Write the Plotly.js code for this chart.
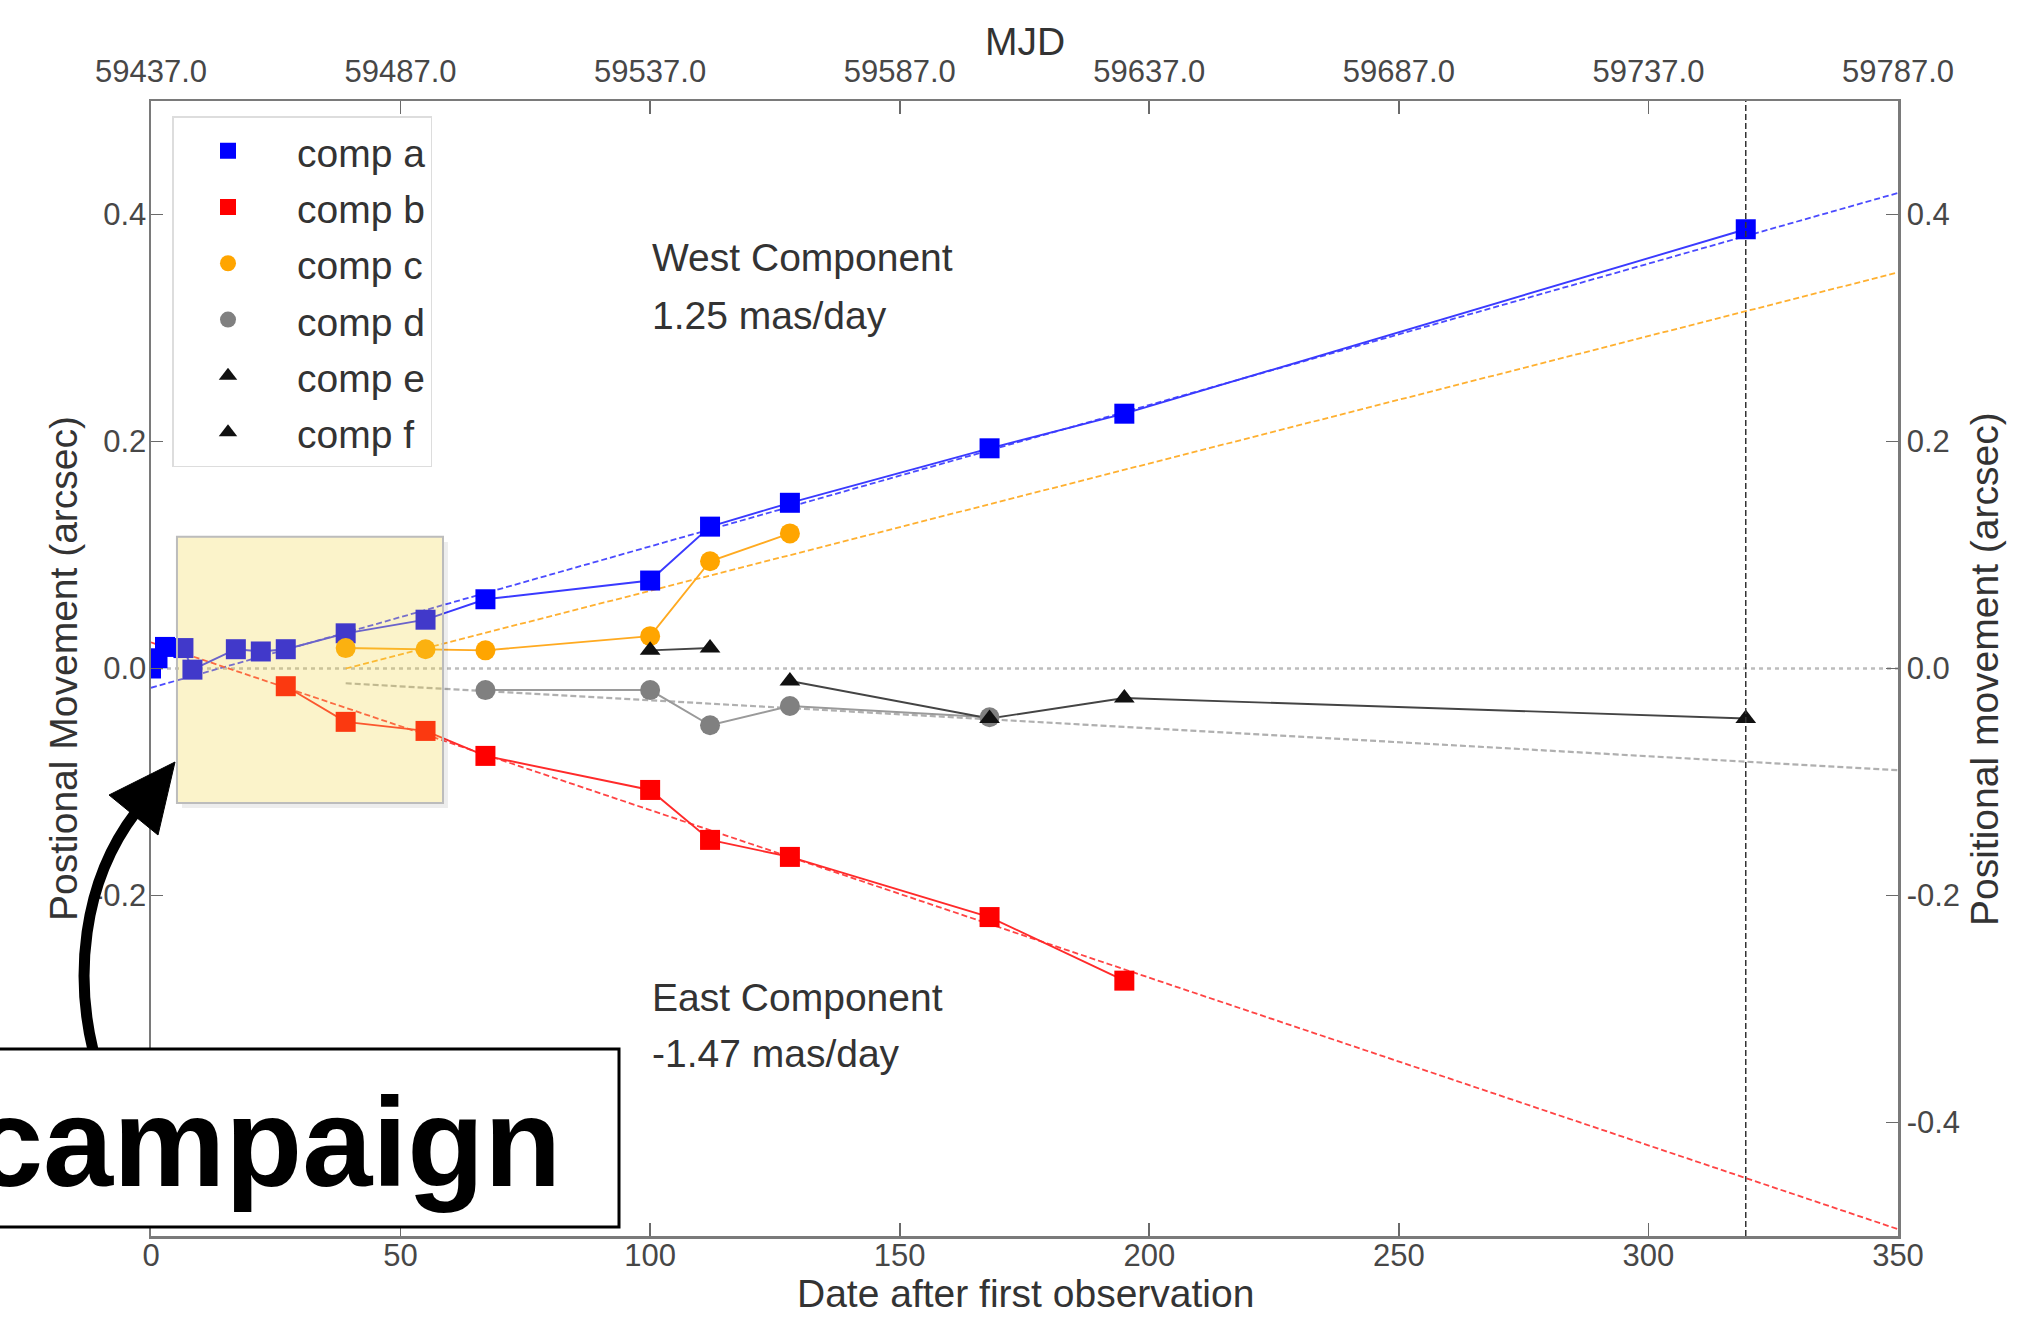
<!DOCTYPE html>
<html>
<head>
<meta charset="utf-8">
<script src="https://cdn.plot.ly/plotly-3.0.1.min.js"></script>
<style>
  html, body { margin: 0; padding: 0; background: #ffffff; }
  #chart { width: 2025px; height: 1326px; }
</style>
</head>
<body>
<div id="chart"></div>
<script>
// ---------------- data ----------------
const days_a = [0, 1.3, 2.8, 6.5, 8.3, 17, 22, 27, 39, 55, 67, 100, 112, 128, 168, 195, 319.5];
const comp_a = [0.0, 0.009, 0.019, 0.018, -0.001, 0.017, 0.015, 0.017, 0.031, 0.043, 0.061, 0.0775, 0.125, 0.146, 0.194, 0.2245, 0.387];

const days_b = [27, 39, 55, 67, 100, 112, 128, 168, 195];
const comp_b = [-0.0156, -0.047, -0.055, -0.077, -0.107, -0.151, -0.166, -0.219, -0.275];

const days_c = [39, 55, 67, 100, 112, 128];
const comp_c = [0.018, 0.017, 0.016, 0.0285, 0.0945, 0.119];

const days_d = [67, 100, 112, 128, 168];
const comp_d = [-0.019, -0.019, -0.050, -0.033, -0.043];

const days_e = [100, 112];
const comp_e = [0.016, 0.018];

const days_f = [128, 168, 195, 319.5];
const comp_f = [-0.011, -0.044, -0.026, -0.044];

// linear-fit lines (end points)
const fitA_x = [0, 350],  fitA_y = [-0.017, 0.419];
const fitB_x = [0, 350],  fitB_y = [0.023, -0.494];
const fitC_x = [39, 350], fitC_y = [0.0, 0.349];
const fitD_x = [39, 350], fitD_y = [-0.013, -0.0896];

const vline_x = 319.5;                  // last epoch marker
const campaign_x = [5.2, 58.5];         // highlighted campaign window (days)
const campaign_y = [-0.1185, 0.116];    // (arcsec)

const xTicks = [0, 50, 100, 150, 200, 250, 300, 350];
const mjdTicks = [59437, 59487, 59537, 59587, 59637, 59687, 59737, 59787];
const mjdLabels = ['59437.0', '59487.0', '59537.0', '59587.0', '59637.0', '59687.0', '59737.0', '59787.0'];
const yTicks = [-0.4, -0.2, 0.0, 0.2, 0.4];
const yLabels = ['-0.4', '-0.2', '0.0', '0.2', '0.4'];

const names = ['comp a', 'comp b', 'comp c', 'comp d', 'comp e', 'comp f'];

// ---------------- styling ----------------
const FONT = 'Liberation Sans, Arial, Helvetica, sans-serif';
const W = 2025, H = 1326;
const M = { l: 151, r: 127, t: 101, b: 90 };
const PW = W - M.l - M.r, PH = H - M.t - M.b;
const px2fx = px => (px - M.l) / PW;
const px2fy = py => (H - M.b - py) / PH;

const series = [
  { x: days_a, y: comp_a, name: names[0], mc: '#0000ff', lc: '#3a3aff', sym: 'square', ms: 20 },
  { x: days_b, y: comp_b, name: names[1], mc: '#ff0000', lc: '#ff2a2a', sym: 'square', ms: 20 },
  { x: days_c, y: comp_c, name: names[2], mc: '#ffa500', lc: '#ffaa20', sym: 'circle', ms: 20 },
  { x: days_d, y: comp_d, name: names[3], mc: '#808080', lc: '#9a9a9a', sym: 'circle', ms: 20 },
  { x: days_e, y: comp_e, name: names[4], mc: '#111111', lc: '#444444', sym: 'triangle-up', ms: 18 },
  { x: days_f, y: comp_f, name: names[5], mc: '#111111', lc: '#444444', sym: 'triangle-up', ms: 18 }
];

const traces = [];
// dashed fit lines
const fits = [
  [fitA_x, fitA_y, '#4b4bff', 1.8],
  [fitB_x, fitB_y, '#ff4444', 1.8],
  [fitC_x, fitC_y, '#ffb030', 1.8],
  [fitD_x, fitD_y, '#b0b0b0', 2.2]
];
fits.forEach(f => traces.push({
  x: f[0], y: f[1], mode: 'lines', type: 'scatter', showlegend: false, hoverinfo: 'skip',
  line: { color: f[2], width: f[3], dash: '6px,3px' }
}));
// connecting lines
series.forEach(s => traces.push({
  x: s.x, y: s.y, mode: 'lines', type: 'scatter', showlegend: false,
  line: { color: s.lc, width: 1.9 }
}));
// markers (also the legend entries)
series.forEach(s => traces.push({
  x: s.x, y: s.y, mode: 'markers', type: 'scatter',
  name: '<span style="font-size:52px">&nbsp;</span><span style="font-size:39px">' + s.name + '</span>',
  marker: { color: s.mc, symbol: s.sym, size: s.ms, line: { width: 0 } }
}));
// invisible helpers so that the twin axes are drawn
traces.push({ x: [mjdTicks[0]], y: [0], xaxis: 'x2', yaxis: 'y', mode: 'markers',
  marker: { opacity: 0 }, showlegend: false, hoverinfo: 'skip' });
traces.push({ x: [0], y: [0], xaxis: 'x', yaxis: 'y2', mode: 'markers',
  marker: { opacity: 0 }, showlegend: false, hoverinfo: 'skip' });

const axisCommon = {
  showgrid: false, zeroline: false, showline: true, linecolor: '#7a7a7a', linewidth: 2.5,
  ticks: 'inside', tickcolor: '#6a6a6a', tickwidth: 1.6,
  tickfont: { family: FONT, size: 31, color: '#474747' }
};

// shapes
const dx = 1.0, dy = 0.0045;
const shapes = [
  // horizontal zero reference
  { type: 'line', xref: 'x', yref: 'y', x0: xTicks[0], x1: xTicks[xTicks.length - 1], y0: 0, y1: 0,
    line: { color: '#bdbdbd', width: 2.6, dash: '4px,4px' }, layer: 'below' },
  // vertical epoch line
  { type: 'line', xref: 'x', yref: 'paper', x0: vline_x, x1: vline_x, y0: 0, y1: 1,
    line: { color: '#333333', width: 1.5, dash: '6px,3px' }, layer: 'above' },
  // shadow of campaign window
  { type: 'path', xref: 'x', yref: 'y', layer: 'above', line: { width: 0 }, fillcolor: 'rgba(0,0,0,0.07)',
    path: `M ${campaign_x[1]},${campaign_y[1] - dy} L ${campaign_x[1] + dx},${campaign_y[1] - dy} ` +
          `L ${campaign_x[1] + dx},${campaign_y[0] - dy} L ${campaign_x[0] + dx},${campaign_y[0] - dy} ` +
          `L ${campaign_x[0] + dx},${campaign_y[0]} L ${campaign_x[1]},${campaign_y[0]} Z` },
  // campaign window
  { type: 'rect', xref: 'x', yref: 'y', layer: 'above',
    x0: campaign_x[0], x1: campaign_x[1], y0: campaign_y[0], y1: campaign_y[1],
    fillcolor: 'rgba(240,210,60,0.27)', line: { color: '#bcbcbc', width: 2 } },
  // curved arrow (paper coords from page pixels)
  { type: 'path', xref: 'paper', yref: 'paper', layer: 'above',
    path: `M ${px2fx(93)},${px2fy(1050)} C ${px2fx(76)},${px2fy(980)} ${px2fx(80)},${px2fy(885)} ${px2fx(136)},${px2fy(812)}`,
    line: { color: '#000000', width: 11 } },
  { type: 'path', xref: 'paper', yref: 'paper', layer: 'above', fillcolor: '#000000', line: { color: '#000000', width: 1 },
    path: `M ${px2fx(175)},${px2fy(762)} L ${px2fx(109)},${px2fy(795)} L ${px2fx(158)},${px2fy(835)} Z` },
  // label box
  { type: 'rect', xref: 'paper', yref: 'paper', layer: 'above',
    x0: px2fx(-10), x1: px2fx(619), y0: px2fy(1227), y1: px2fy(1049),
    fillcolor: '#ffffff', line: { color: '#000000', width: 3 } }
];

const annText = { family: FONT, size: 39, color: '#333333' };
const titleFont = { family: FONT, size: 39, color: '#333333' };
const annotations = [
  { xref: 'x', yref: 'y', x: 100, y: 0.362, text: 'West Component', showarrow: false, xanchor: 'left', yanchor: 'middle', font: annText },
  { xref: 'x', yref: 'y', x: 100, y: 0.311, text: '1.25 mas/day', showarrow: false, xanchor: 'left', yanchor: 'middle', font: annText },
  { xref: 'x', yref: 'y', x: 100, y: -0.290, text: 'East Component', showarrow: false, xanchor: 'left', yanchor: 'middle', font: annText },
  { xref: 'x', yref: 'y', x: 100, y: -0.339, text: '-1.47 mas/day', showarrow: false, xanchor: 'left', yanchor: 'middle', font: annText },
  // axis titles
  { xref: 'paper', yref: 'paper', x: px2fx(1025), y: px2fy(41), text: 'MJD', showarrow: false,
    xanchor: 'center', yanchor: 'middle', font: titleFont },
  { xref: 'paper', yref: 'paper', x: px2fx(1025), y: px2fy(1293), text: 'Date after first observation', showarrow: false,
    xanchor: 'center', yanchor: 'middle', font: titleFont },
  { xref: 'paper', yref: 'paper', x: px2fx(64), y: px2fy(669), text: 'Postional Movement (arcsec)', showarrow: false,
    textangle: -90, xanchor: 'center', yanchor: 'middle', font: titleFont },
  { xref: 'paper', yref: 'paper', x: px2fx(1985), y: px2fy(669), text: 'Positional movement (arcsec)', showarrow: false,
    textangle: -90, xanchor: 'center', yanchor: 'middle', font: titleFont },
  // label in the white box
  { xref: 'paper', yref: 'paper', x: px2fx(563), y: px2fy(1142), text: '<b>campaign</b>', showarrow: false,
    xanchor: 'right', yanchor: 'middle', font: { family: FONT, size: 126, color: '#000000' } }
];

const layout = {
  width: W, height: H,
  margin: M,
  paper_bgcolor: '#ffffff', plot_bgcolor: '#ffffff',
  font: { family: FONT, color: '#333333' },
  showlegend: true,
  legend: {
    x: px2fx(172), y: px2fy(116), xanchor: 'left', yanchor: 'top',
    bgcolor: '#ffffff', bordercolor: '#dddddd', borderwidth: 1.5,
    font: { family: FONT, size: 41, color: '#333333' },
    itemwidth: 99, tracegroupgap: 0
  },
  xaxis: Object.assign({}, axisCommon, {
    range: [xTicks[0], xTicks[xTicks.length - 1]], tickvals: xTicks, ticklen: 13, ticklabelstandoff: -10
  }),
  xaxis2: Object.assign({}, axisCommon, {
    overlaying: 'x', side: 'top', range: [mjdTicks[0], mjdTicks[mjdTicks.length - 1]],
    tickvals: mjdTicks, ticktext: mjdLabels, ticklen: 13, ticklabelstandoff: 4
  }),
  yaxis: Object.assign({}, axisCommon, {
    range: [-0.5, 0.5], tickvals: yTicks, ticktext: yLabels, ticklen: 12, ticklabelstandoff: -4
  }),
  yaxis2: Object.assign({}, axisCommon, {
    overlaying: 'y', side: 'right', range: [-0.5, 0.5], tickvals: yTicks, ticktext: yLabels, ticklen: 12
  }),
  shapes: shapes,
  annotations: annotations
};

Plotly.newPlot('chart', traces, layout, { staticPlot: true, displayModeBar: false });
</script>
</body>
</html>
